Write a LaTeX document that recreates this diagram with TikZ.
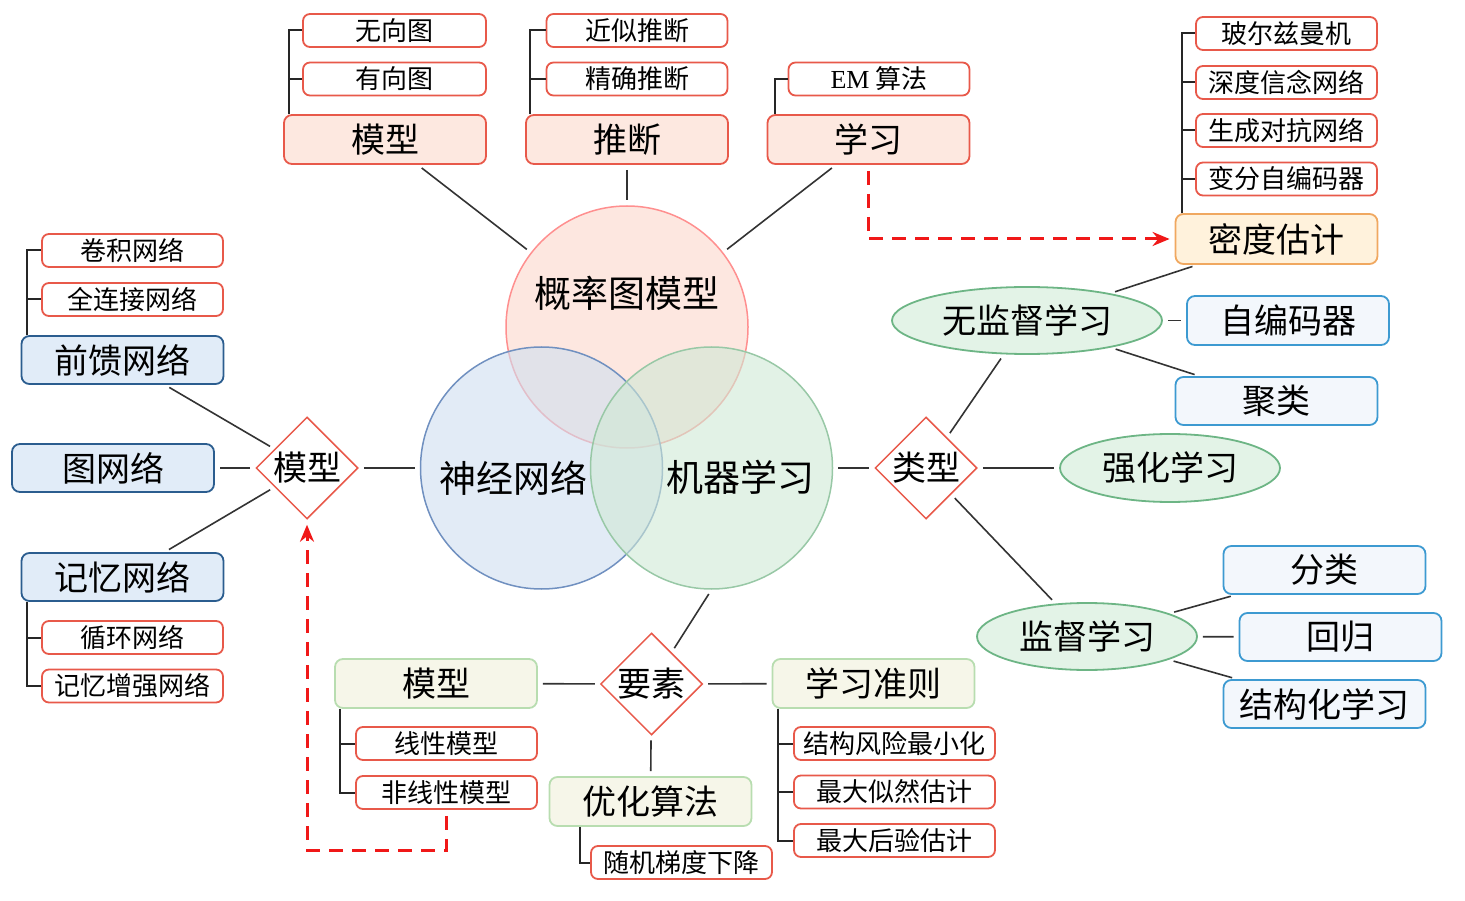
\documentclass[tikz,border=0pt]{standalone}
\usepackage{fontspec}
\setmainfont{Noto Sans CJK SC}
\newfontfamily\latinserif{Liberation Serif}
\usetikzlibrary{shapes,arrows.meta,positioning,calc}
\definecolor{boxred}{HTML}{E8594A}
\definecolor{pinkfill}{HTML}{FDE8E0}
\definecolor{navyline}{HTML}{2B5D8F}
\definecolor{navyfill}{HTML}{E1ECF8}
\definecolor{skyline}{HTML}{3D9AD1}
\definecolor{skyfill}{HTML}{F3F7FC}
\definecolor{sageline}{HTML}{B8DDB0}
\definecolor{sagefill}{HTML}{F6F6E9}
\definecolor{amberline}{HTML}{F0A860}
\definecolor{amberfill}{HTML}{FFF2DC}
\definecolor{ovalline}{HTML}{6DB585}
\definecolor{ovalfill}{HTML}{E3F3E7}
\definecolor{linkgray}{HTML}{333333}
\definecolor{dashred}{HTML}{F01818}
\newcommand\mainsize{\fontsize{34}{36}\selectfont}
\newcommand\leafsize{\fontsize{26}{28}\selectfont}
\newcommand\ringsize{\fontsize{37}{40}\selectfont}

\begin{document}
\begin{tikzpicture}[x=1pt, y=-1pt,
    pinkbox/.style={rectangle, rounded corners=8pt, draw=boxred, fill=pinkfill, line width=1.8pt, minimum width=202pt, minimum height=49pt, inner sep=2pt, font=\mainsize},
    leaf/.style={rectangle, rounded corners=7pt, draw=boxred, fill=white, line width=1.8pt, minimum width=181pt, minimum height=33pt, inner sep=2pt, font=\leafsize},
    navybox/.style={pinkbox, draw=navyline, fill=navyfill, minimum height=48pt},
    skybox/.style={pinkbox, draw=skyline, fill=skyfill, minimum height=48pt},
    sagebox/.style={pinkbox, draw=sageline, fill=sagefill},
    amberbox/.style={pinkbox, draw=amberline, fill=amberfill, minimum height=50pt},
    oval/.style={ellipse, draw=ovalline, fill=ovalfill, line width=1.8pt, minimum width=220pt, minimum height=68pt, inner sep=0pt, font=\mainsize},
    gem/.style={diamond, draw=boxred, fill=white, line width=1.5pt, minimum width=102pt, minimum height=102pt, inner sep=0pt, font=\mainsize},
    ring/.style={circle, minimum size=242pt, inner sep=0pt, line width=1.5pt, fill opacity=0.6},
    link/.style={draw=linkgray, line width=1.6pt, shorten <=5pt, shorten >=5pt},
    bracket/.style={draw=black!85, line width=2pt},
    dasharrow/.style={draw=dashred, line width=3pt, dash pattern=on 14pt off 9pt, -{Stealth[length=17pt,width=14pt]}, shorten <=6pt, shorten >=5pt}]
    \useasboundingbox (0,0) rectangle (1465,901);

    % three rings
    \node[ring, draw=red!40!pink!80, fill={rgb,255:red,252;green,215;blue,203}] (pgm) at (627,327) {};
    \node[ring, draw={rgb,255:red,112;green,144;blue,192}, fill={rgb,255:red,207;green,222;blue,240}] (nn) at (541.5,468) {};
    \node[ring, draw={rgb,255:red,152;green,200;blue,166}, fill={rgb,255:red,207;green,233;blue,213}] (ml) at (711.5,468) {};
    \node[font=\ringsize] (pgmtext) at (627,293) {概率图模型};
    \node[font=\ringsize] (nntext) at (513,478) {神经网络};
    \node[font=\ringsize] (mltext) at (740,477) {机器学习};

    % probabilistic graphical model
    \node[pinkbox] (mod1) at (385,139.5) {模型};
    \node[leaf, minimum width=183pt] (wxt) at (394.5,30.5) {无向图};
    \node[leaf, minimum width=183pt] (yxt) at (394.5,79) {有向图};
    \node[pinkbox] (inf) at (627,139.5) {推断};
    \node[leaf] (jstd) at (637,30.5) {近似推断};
    \node[leaf] (jqtd) at (637,79) {精确推断};
    \node[pinkbox] (lrn) at (868.5,139.5) {学习};
    \node[leaf] (em) at (879,79) {{\latinserif EM} 算法};

    \draw[bracket] ([xshift=6pt]mod1.north west) |- (wxt.west);
    \draw[bracket] ([xshift=6pt]mod1.north west) |- (yxt.west);
    \draw[bracket] ([xshift=5pt]inf.north west) |- (jstd.west);
    \draw[bracket] ([xshift=5pt]inf.north west) |- (jqtd.west);
    \draw[bracket] ([xshift=8pt]lrn.north west) |- (em.west);
    \draw[link] (mod1) -- (pgm);
    \draw[link] (inf) -- (pgm);
    \draw[link] (lrn) -- (pgm);

    % density estimation
    \node[amberbox] (midu) at (1276.5,239) {密度估计};
    \node[leaf] (boltz) at (1286.5,33.5) {玻尔兹曼机};
    \node[leaf] (dbn) at (1286.5,82.5) {深度信念网络};
    \node[leaf] (gan) at (1286.5,130.5) {生成对抗网络};
    \node[leaf] (vae) at (1286.5,179) {变分自编码器};
    \foreach \kid in {boltz,dbn,gan,vae}
        \draw[bracket] ([xshift=7pt]midu.north west) |- (\kid.west);
    \draw[dasharrow] (lrn.south) |- (midu.west);

    % machine learning types
    \node[gem] (leixing) at (926,468) {类型};
    \node[oval, minimum width=270pt, minimum height=67pt] (unsup) at (1027,320.5) {无监督学习};
    \node[skybox, minimum height=49pt] (ae) at (1288,320.5) {自编码器};
    \node[skybox] (clus) at (1276.5,401) {聚类};
    \node[oval] (rl) at (1170,468) {强化学习};
    \node[oval, minimum height=67pt] (sup) at (1087,636.5) {监督学习};
    \node[skybox] (cls) at (1324.5,570) {分类};
    \node[skybox] (reg) at (1340.5,637) {回归};
    \node[skybox] (struct) at (1324.5,704) {结构化学习};

    \draw[link] (ml) -- (leixing);
    \draw[link] (leixing) -- (unsup);
    \draw[link] (leixing) -- (rl);
    \draw[link] (leixing) -- (sup);
    \draw[link] (unsup) -- (midu);
    \draw[link] (unsup) -- (ae);
    \draw[link] (unsup) -- (clus);
    \draw[link] (sup) -- (cls);
    \draw[link] (sup) -- (reg);
    \draw[link] (sup) -- (struct);

    % neural network models
    \node[gem] (mod2) at (307,468) {模型};
    \node[navybox] (graphnet) at (113,468) {图网络};
    \node[navybox] (ffn) at (122.5,360) {前馈网络};
    \node[navybox] (memnet) at (122.5,577) {记忆网络};
    \node[leaf] (cnn) at (132.5,250.5) {卷积网络};
    \node[leaf] (fcn) at (132.5,299.5) {全连接网络};
    \node[leaf] (rnn) at (132.5,637.5) {循环网络};
    \node[leaf] (mann) at (132.5,686) {记忆增强网络};

    \draw[bracket] ([xshift=6pt]ffn.north west) |- (cnn.west);
    \draw[bracket] ([xshift=6pt]ffn.north west) |- (fcn.west);
    \draw[bracket] ([xshift=6pt]memnet.south west) |- (rnn.west);
    \draw[bracket] ([xshift=6pt]memnet.south west) |- (mann.west);
    \draw[link] (mod2) -- (nn);
    \draw[link] (mod2) -- (graphnet);
    \draw[link] (mod2) -- (ffn);
    \draw[link] (mod2) -- (memnet);

    % elements of machine learning
    \node[gem] (yaosu) at (651.5,684) {要素};
    \node[sagebox] (mod3) at (436,683.5) {模型};
    \node[leaf] (linear) at (446.5,743.5) {线性模型};
    \node[leaf] (nonlin) at (446.5,792.5) {非线性模型};
    \node[sagebox] (crit) at (873.5,683.5) {学习准则};
    \node[leaf, minimum width=201pt] (srm) at (894.5,743.5) {结构风险最小化};
    \node[leaf, minimum width=201pt] (mle) at (894.5,792) {最大似然估计};
    \node[leaf, minimum width=201pt] (map) at (894.5,840.5) {最大后验估计};
    \node[sagebox] (opt) at (650.5,801.5) {优化算法};
    \node[leaf] (sgd) at (681.5,862.5) {随机梯度下降};

    \draw[bracket] ([xshift=6pt]mod3.south west) |- (linear.west);
    \draw[bracket] ([xshift=6pt]mod3.south west) |- (nonlin.west);
    \foreach \kid in {srm,mle,map}
        \draw[bracket] ([xshift=6pt]crit.south west) |- (\kid.west);
    \draw[bracket] ([xshift=31pt]opt.south west) |- (sgd.west);
    \draw[link] (ml.south) -- (yaosu);
    \draw[link] (yaosu) -- (mod3);
    \draw[link] (yaosu) -- (crit);
    \draw[link] (yaosu) -- (opt);

    \coordinate (lowturn) at (446.5,850);
    \draw[dasharrow] (nonlin.south) -- (lowturn) -| (mod2.south);
\end{tikzpicture}
\end{document}
